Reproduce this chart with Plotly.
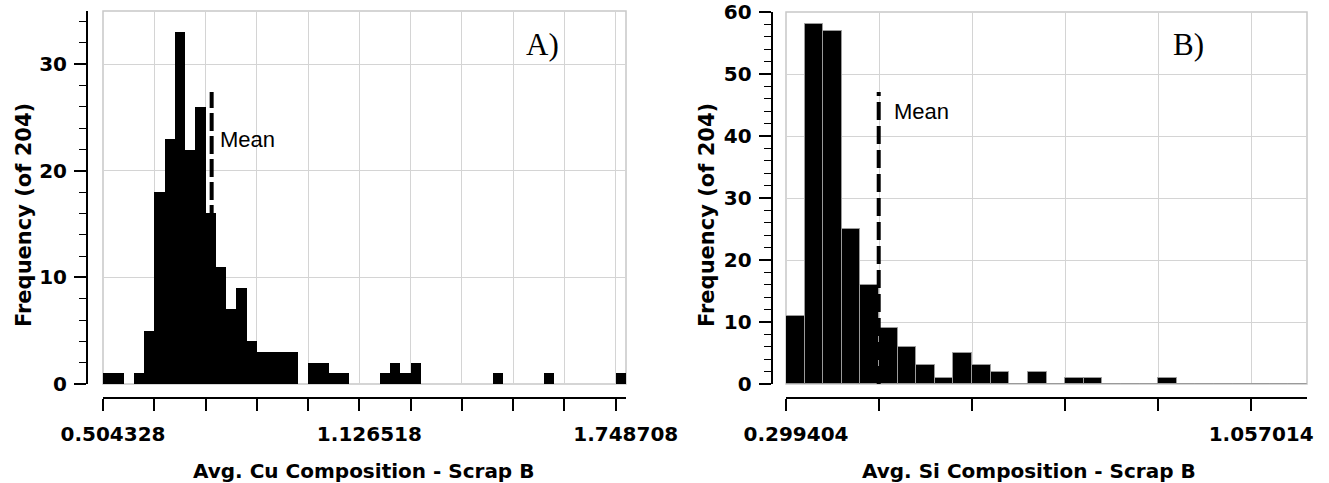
import plotly.graph_objects as go

# ---------------- data ----------------
# Left histogram: Avg. Cu Composition - Scrap B
cu_bin_start = 0.504328
cu_bin_width = (1.748708 - 0.504328) / 50.0
cu_counts = [1, 1, 0, 1, 5, 18, 23, 33, 22, 26,
             16, 11, 7, 9, 4, 3, 3, 3, 3, 0,
             2, 2, 1, 1, 0, 0, 0, 1, 2, 1,
             2, 0, 0, 0, 0, 0, 0, 0, 1, 0,
             0, 0, 0, 1, 0, 0, 0, 0, 0, 0,
             1]
cu_mean = 0.768
cu_tick_labels = ["0.504328", "", "", "", "", "1.126518", "", "", "", "", "1.748708"]

# Right histogram: Avg. Si Composition - Scrap B
si_bin_start = 0.299404
si_bin_width = (1.057014 - 0.299404) / 25.0
si_counts = [11, 58, 57, 25, 16, 9, 6, 3, 1, 5,
             3, 2, 0, 2, 0, 1, 1, 0, 0, 0,
             1, 0, 0, 0, 0, 0, 0, 0]
si_mean = 0.4504
si_tick_labels = ["0.299404", "", "", "", "", "1.057014"]

# ---------------- layout helpers ----------------
W, H = 1329, 483
def px(x):
    return x / W
def py(y):
    return 1 - y / H

FONT = "DejaVu Sans"
GRID = "#d4d4d4"

fig = go.Figure()

cu_centers = [cu_bin_start + (i + 0.5) * cu_bin_width for i in range(len(cu_counts))]
si_centers = [si_bin_start + (i + 0.5) * si_bin_width for i in range(len(si_counts))]

fig.add_trace(go.Bar(x=cu_centers, y=cu_counts, width=cu_bin_width,
                     marker=dict(color="black", line=dict(width=0)),
                     xaxis="x", yaxis="y", showlegend=False))
fig.add_trace(go.Bar(x=si_centers, y=si_counts, width=si_bin_width,
                     marker=dict(color="black", line=dict(color="#9a9a9a", width=1)),
                     xaxis="x2", yaxis="y2", showlegend=False))

cu_step = cu_bin_width * 5
si_step = si_bin_width * 5
cu_ticks = [cu_bin_start + k * cu_step for k in range(len(cu_tick_labels))]
si_ticks = [si_bin_start + k * si_step for k in range(len(si_tick_labels))]

def xaxis_cfg(dom, rng, tickvals, ticktext):
    return dict(domain=dom, range=rng, anchor="free", position=py(398),
                automargin=False,
                tickmode="array", tickvals=tickvals, ticktext=ticktext,
                ticks="outside", ticklen=12, tickwidth=1.5, tickcolor="black",
                showline=True, linecolor="black", linewidth=2,
                showgrid=True, gridcolor=GRID, gridwidth=1, zeroline=False,
                tickfont=dict(family=FONT, size=20, color="black", weight="bold"),
                ticklabelshift=10, ticklabelstandoff=6)

def yaxis_cfg(dom, rng, pos):
    return dict(domain=dom, range=rng, anchor="free", position=pos,
                automargin=False,
                tick0=0, dtick=10, ticks="outside", ticklen=12, tickwidth=1.5,
                tickcolor="black", showline=True, linecolor="black", linewidth=2,
                showgrid=True, gridcolor=GRID, gridwidth=1, zeroline=False,
                tickfont=dict(family=FONT, size=20, color="black", weight="bold"),
                ticklabelstandoff=3,
                minor=dict(tick0=0, dtick=2, ticks="outside", ticklen=7,
                           tickwidth=1, tickcolor="black", showgrid=False))

fig.update_layout(
    template="none",
    width=W, height=H, margin=dict(l=0, r=0, t=0, b=0, autoexpand=False),
    paper_bgcolor="white", plot_bgcolor="white",
    bargap=0,
    xaxis=xaxis_cfg([px(103), px(626)],
                    [cu_bin_start, cu_bin_start + len(cu_counts) * cu_bin_width],
                    cu_ticks, cu_tick_labels),
    yaxis=yaxis_cfg([py(384), py(11)], [0, 35], px(87)),
    xaxis2=xaxis_cfg([px(786), px(1307)],
                     [si_bin_start, si_bin_start + len(si_counts) * si_bin_width],
                     si_ticks, si_tick_labels),
    yaxis2=yaxis_cfg([py(384), py(12)], [0, 60], px(771.7)),
)

# plot borders
for xr, yr in (("x domain", "y domain"), ("x2 domain", "y2 domain")):
    fig.add_shape(type="rect", xref=xr, yref=yr, x0=0, x1=1, y0=0, y1=1,
                  line=dict(color="#c8c8c8", width=1.5), layer="below")

# mean lines
fig.add_shape(type="line", xref="x", yref="y", x0=cu_mean, x1=cu_mean, y0=0, y1=27.4,
              line=dict(color="black", width=4, dash="18px,5px"), layer="above")
fig.add_shape(type="line", xref="x2", yref="y2", x0=si_mean, x1=si_mean, y0=0, y1=47.1,
              line=dict(color="black", width=4, dash="18px,6px"), layer="above")

ann = []
ann.append(dict(text="Mean", x=px(218), y=py(139.5), xref="paper", yref="paper",
                xanchor="left", yanchor="middle", showarrow=False,
                font=dict(family="Liberation Sans", size=22, color="black")))
ann.append(dict(text="Mean", x=px(892), y=py(111), xref="paper", yref="paper",
                xanchor="left", yanchor="middle", showarrow=False,
                font=dict(family="Liberation Sans", size=22, color="black")))
ann.append(dict(text="A)", x=px(542), y=py(45), xref="paper", yref="paper",
                xanchor="center", yanchor="middle", showarrow=False,
                font=dict(family="Liberation Serif", size=31, color="black")))
ann.append(dict(text="B)", x=px(1188), y=py(45), xref="paper", yref="paper",
                xanchor="center", yanchor="middle", showarrow=False,
                font=dict(family="Liberation Serif", size=31, color="black")))
# axis titles
ann.append(dict(text="Avg. Cu Composition - Scrap B", x=px(364), y=py(471),
                xref="paper", yref="paper", xanchor="center", yanchor="middle",
                showarrow=False, font=dict(family=FONT, size=20, color="black", weight="bold")))
ann.append(dict(text="Avg. Si Composition - Scrap B", x=px(1029), y=py(471),
                xref="paper", yref="paper", xanchor="center", yanchor="middle",
                showarrow=False, font=dict(family=FONT, size=20, color="black", weight="bold")))
ann.append(dict(text="Frequency (of 204)", x=px(24), y=py(215), textangle=-90,
                xref="paper", yref="paper", xanchor="center", yanchor="middle",
                showarrow=False, font=dict(family=FONT, size=21, color="black", weight="bold")))
ann.append(dict(text="Frequency (of 204)", x=px(707), y=py(215), textangle=-90,
                xref="paper", yref="paper", xanchor="center", yanchor="middle",
                showarrow=False, font=dict(family=FONT, size=21, color="black", weight="bold")))
fig.update_layout(annotations=ann)

fig.write_html("out.html", config={"displayModeBar": False},
               post_script="document.body.style.margin='0';document.body.style.overflow='hidden';")
